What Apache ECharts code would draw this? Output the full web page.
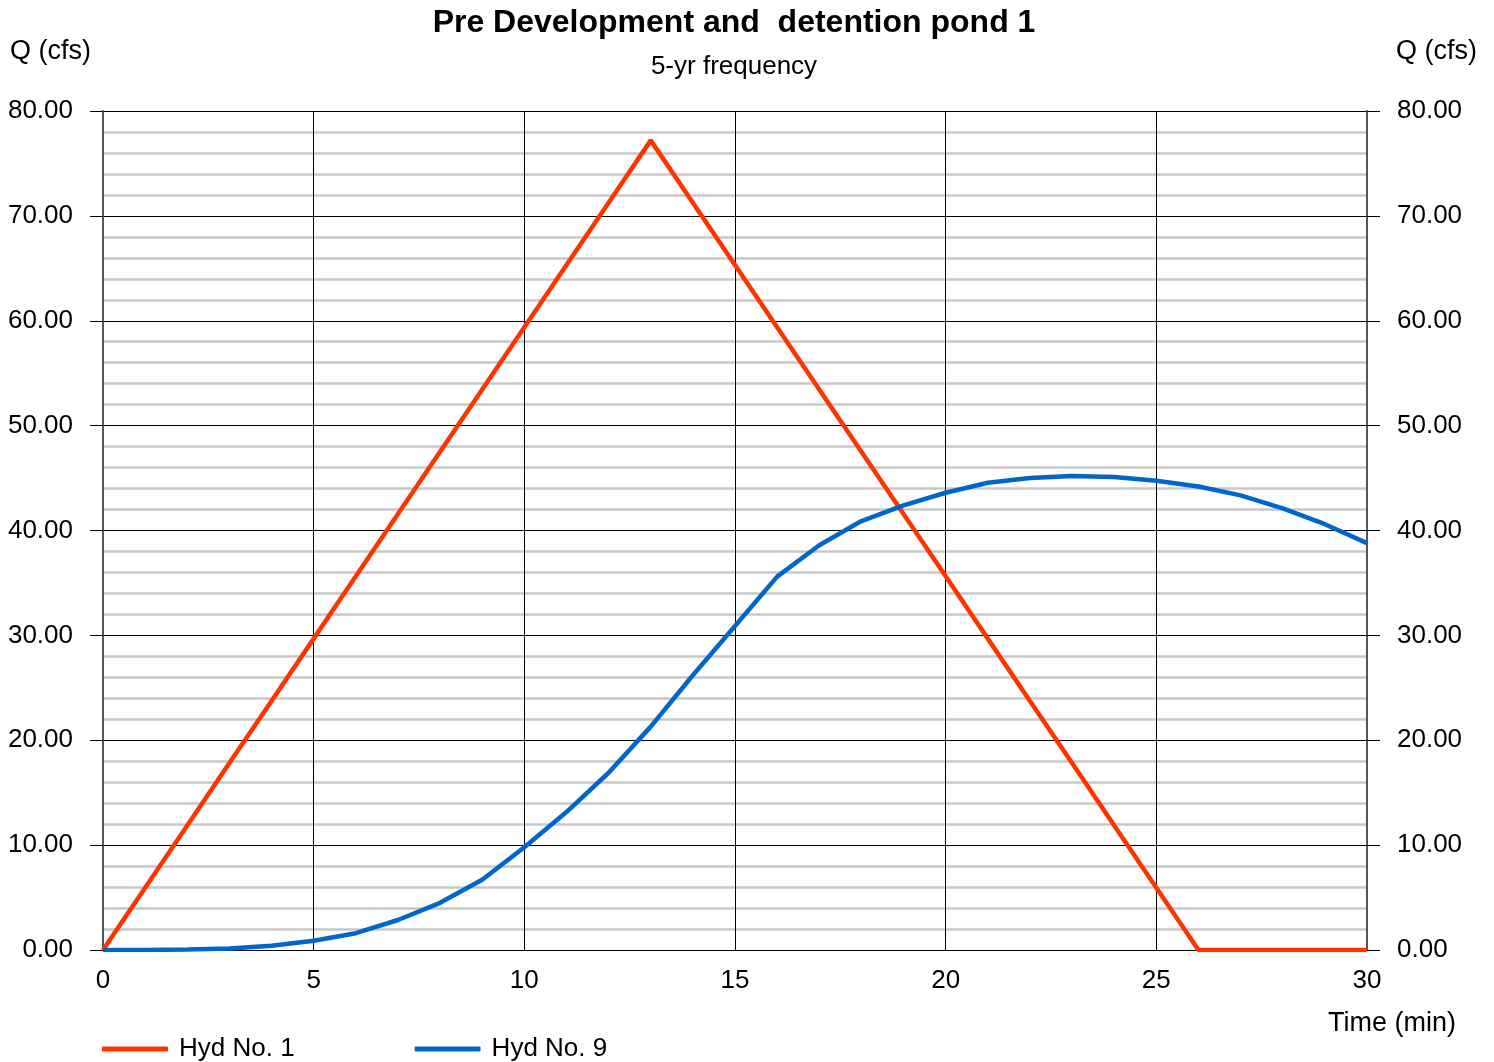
<!DOCTYPE html>
<html>
<head>
<meta charset="utf-8">
<script src="https://cdn.jsdelivr.net/npm/echarts@6/dist/echarts.min.js"></script>
<style>html,body{margin:0;padding:0;background:#fff}#c{width:1494px;height:1062px}</style>
</head>
<body>
<div id="c"></div>
<script>
var titleText = 'Pre Development and  detention pond 1';
var subText = '5-yr frequency';
var seriesNames = ['Hyd No. 1', 'Hyd No. 9'];
var timeMin = [0,1,2,3,4,5,6,7,8,9,10,11,12,13,14,15,16,17,18,19,20,21,22,23,24,25,26,27,28,29,30];
var hyd1 = [0,5.94,11.88,17.82,23.75,29.69,35.63,41.57,47.51,53.45,59.38,65.32,71.26,77.2,71.26,65.32,59.38,53.45,47.51,41.57,35.63,29.69,23.75,17.82,11.88,5.94,0,0,0,0,0];
var hyd9 = [0,0.01,0.05,0.15,0.4,0.88,1.6,2.86,4.5,6.7,9.8,13.15,16.9,21.3,26.2,30.9,35.6,38.6,40.9,42.4,43.6,44.55,45.0,45.2,45.1,44.75,44.2,43.35,42.1,40.6,38.8];
var yName = 'Q (cfs)';
var xName = 'Time (min)';

function pairs(xs, ys){ return xs.map(function(x,i){ return [x, ys[i]]; }); }

var FONT = '"Liberation Sans", Arial, sans-serif';
var chart = echarts.init(document.getElementById('c'), null, {renderer:'canvas'});
var yAxisBase = {
  type:'value', min:0, max:80, interval:10,
  axisLine:{show:true, lineStyle:{color:'#555', width:2}},
  axisTick:{show:true, length:13, lineStyle:{color:'#000', width:1}},
  axisLabel:{formatter:function(v){return v.toFixed(2);}, color:'#000', fontSize:26, fontFamily:FONT, margin:30, padding:[8,0,0,0]}
};
chart.setOption({
  animation:false,
  backgroundColor:'#fff',
  grid:{left:103, right:127, top:111, bottom:112, containLabel:false},
  xAxis:{
    type:'value', min:0, max:30, interval:5,
    axisLine:{show:true, onZero:false, lineStyle:{color:'#000', width:1}},
    axisTick:{show:false},
    axisLabel:{color:'#000', fontSize:26, fontFamily:FONT, margin:18},
    splitLine:{show:true, lineStyle:{color:'#000', width:1}}
  },
  yAxis:[
    Object.assign({}, yAxisBase, {
      position:'left',
      splitLine:{show:true, lineStyle:{color:'#000', width:1}},
      minorTick:{show:false, splitNumber:5},
      minorSplitLine:{show:true, lineStyle:{color:'#c8c8c8', width:2.5}}
    }),
    Object.assign({}, yAxisBase, {
      position:'right',
      splitLine:{show:false}
    })
  ],
  legend:{
    left:97, top:1031, itemWidth:66, itemHeight:5, itemGap:120, icon:'roundRect',
    textStyle:{fontFamily:FONT, fontSize:26, color:'#000', padding:[0,0,0,6]},
    data:seriesNames
  },
  graphic:[
    {type:'text', x:734, y:23, style:{text:titleText, font:'bold 32px ' + FONT, fill:'#000', textAlign:'center', textVerticalAlign:'middle'}},
    {type:'text', x:734, y:67, style:{text:subText, font:'26px ' + FONT, fill:'#000', textAlign:'center', textVerticalAlign:'middle'}},
    {type:'text', left:10, top:38, style:{text:yName, font:'27px ' + FONT, fill:'#000'}},
    {type:'text', right:17, top:38, style:{text:yName, font:'27px ' + FONT, fill:'#000'}},
    {type:'text', right:38, top:1010, style:{text:xName, font:'27px ' + FONT, fill:'#000'}}
  ],
  series:[
    {name:seriesNames[0], type:'line', data:pairs(timeMin, hyd1), showSymbol:false, symbol:'none',
     lineStyle:{color:'#FF3300', width:4.5}, itemStyle:{color:'#FF3300'}, z:3},
    {name:seriesNames[1], type:'line', data:pairs(timeMin, hyd9), showSymbol:false, symbol:'none',
     lineStyle:{color:'#0066CC', width:4.5}, itemStyle:{color:'#0066CC'}, z:4}
  ]
});
</script>
</body>
</html>
